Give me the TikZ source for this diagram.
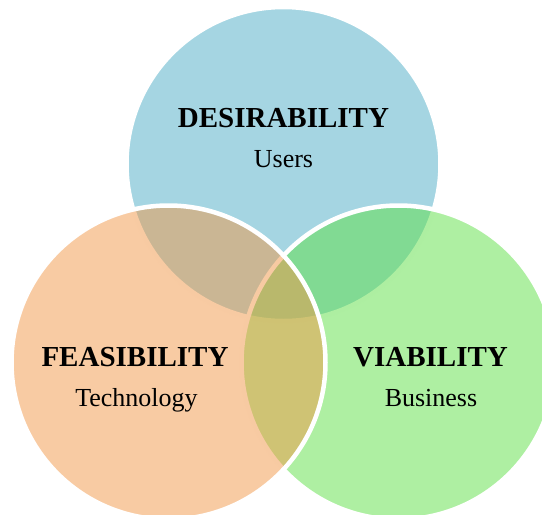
\documentclass[tikz,border=0pt]{standalone}
\usepackage{fontspec}
\setmainfont{Liberation Serif}
\definecolor{cblue}{HTML}{4BACC6}
\definecolor{cgreen}{HTML}{5DDF45}
\definecolor{corange}{HTML}{F19747}
\begin{document}
\begin{tikzpicture}[x=1pt,y=-1pt,
  venn/.style={fill opacity=0.5, draw=white, draw opacity=1, line width=4.5pt},
  title/.style={anchor=base, inner sep=0pt, font=\fontsize{29}{32}\selectfont\bfseries},
  sub/.style={anchor=base, inner sep=0pt, font=\fontsize{26}{30}\selectfont}]
\useasboundingbox (0,0) rectangle (542,515);
\clip (0,0) rectangle (542,515);
\path[venn, fill=cblue] (283.5,164) circle[radius=157];
\path[venn, fill=cgreen] (398.5,362.5) circle[radius=157];
\path[venn, fill=corange] (168.5,362.5) circle[radius=157];
\node[title] (des) at (283.5,127) {DESIRABILITY};
\node[sub] (users) at (283.5,167.5) {Users};
\node[title] (fea) at (135,366) {FEASIBILITY};
\node[sub] (tech) at (136.5,406) {Technology};
\node[title] (via) at (430.5,366) {VIABILITY};
\node[sub] (bus) at (431,406) {Business};
\end{tikzpicture}
\end{document}
